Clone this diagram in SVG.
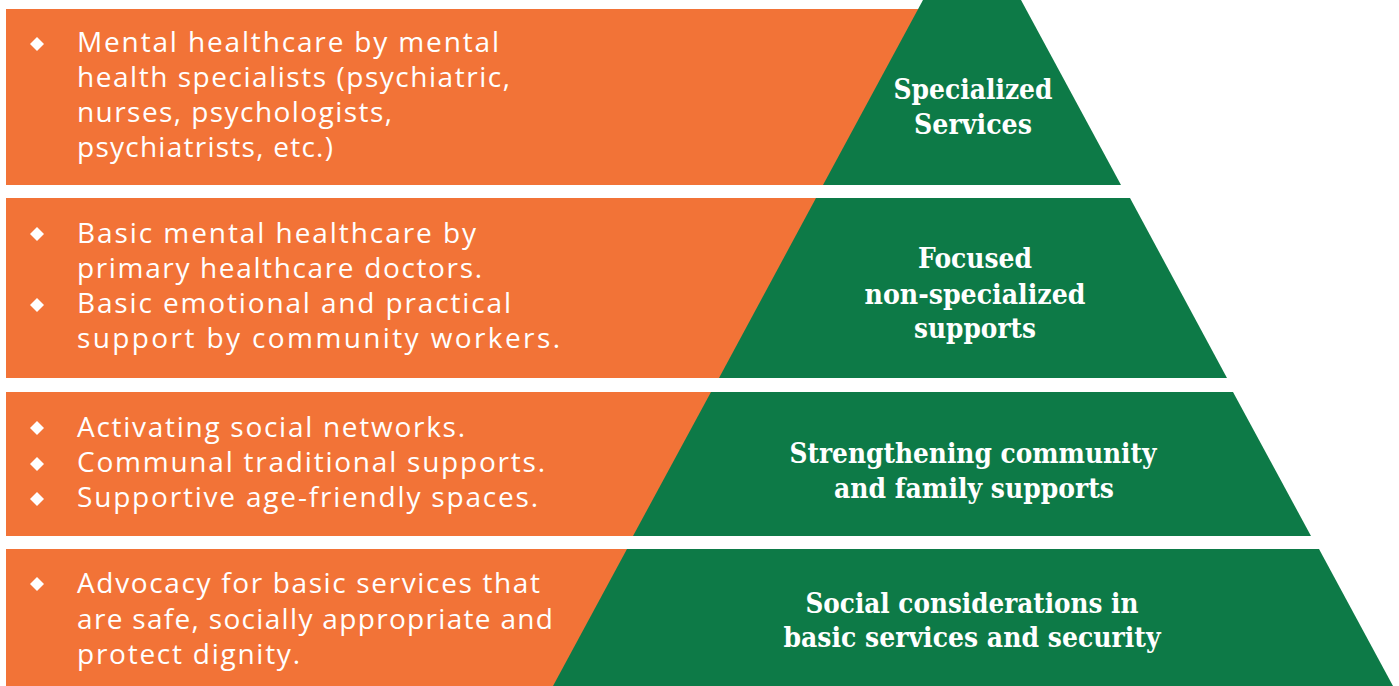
<svg xmlns="http://www.w3.org/2000/svg" width="1399" height="686" viewBox="0 0 1399 686">
<defs>
<style>
.bar{fill:#F27337}
.pyr{fill:#0D7A47}
.item{font-family:"Open Sans","Liberation Sans",sans-serif;font-size:28px;fill:#FFFFFF}
.lbl{font-family:"DejaVu Serif","Liberation Serif",serif;font-weight:bold;font-size:27px;fill:#FFFFFF;text-anchor:middle}
.dot{fill:#FFFFFF}
</style>
<path id="dia" d="M0,-7 L7,0 L0,7 L-7,0 Z"/>
</defs>
<rect width="1399" height="686" fill="#FFFFFF"/>

<g id="tier1">
<rect class="bar" x="6" y="9" width="930" height="176"/>
<polygon class="pyr" points="923,0 1021,0 1121,185 823,185"/>
<use href="#dia" class="dot" x="37" y="44"/>
<text class="item" x="77" y="52" textLength="422">Mental healthcare by mental</text>
<text class="item" x="77" y="87" textLength="433">health specialists (psychiatric,</text>
<text class="item" x="77" y="122" textLength="315">nurses, psychologists,</text>
<text class="item" x="77" y="157" textLength="256">psychiatrists, etc.)</text>
<text class="lbl" x="973" y="99" textLength="159" lengthAdjust="spacingAndGlyphs">Specialized</text>
<text class="lbl" x="973" y="134" textLength="118" lengthAdjust="spacingAndGlyphs">Services</text>
</g>

<g id="tier2">
<rect class="bar" x="6" y="198" width="830" height="180"/>
<polygon class="pyr" points="816,198 1130,198 1227,378 719,378"/>
<use href="#dia" class="dot" x="37" y="234"/>
<use href="#dia" class="dot" x="37" y="305"/>
<text class="item" x="77" y="243" textLength="399">Basic mental healthcare by</text>
<text class="item" x="77" y="278" textLength="405">primary healthcare doctors.</text>
<text class="item" x="77" y="313" textLength="434">Basic emotional and practical</text>
<text class="item" x="77" y="348" textLength="483">support by community workers.</text>
<text class="lbl" x="975" y="268" textLength="114" lengthAdjust="spacingAndGlyphs">Focused</text>
<text class="lbl" x="975" y="304" textLength="221" lengthAdjust="spacingAndGlyphs">non-specialized</text>
<text class="lbl" x="975" y="338" textLength="122" lengthAdjust="spacingAndGlyphs">supports</text>
</g>

<g id="tier3">
<rect class="bar" x="6" y="392" width="720" height="144"/>
<polygon class="pyr" points="711,392 1233,392 1311,536 633,536"/>
<use href="#dia" class="dot" x="37" y="428"/>
<use href="#dia" class="dot" x="37" y="464"/>
<use href="#dia" class="dot" x="37" y="499"/>
<text class="item" x="77" y="437" textLength="388">Activating social networks.</text>
<text class="item" x="77" y="472" textLength="468">Communal traditional supports.</text>
<text class="item" x="77" y="507" textLength="461">Supportive age-friendly spaces.</text>
<text class="lbl" x="973" y="463" textLength="367" lengthAdjust="spacingAndGlyphs">Strengthening community</text>
<text class="lbl" x="974" y="498" textLength="280" lengthAdjust="spacingAndGlyphs">and family supports</text>
</g>

<g id="tier4">
<rect class="bar" x="6" y="549" width="640" height="137"/>
<polygon class="pyr" points="627,549 1319,549 1393,686 553,686"/>
<use href="#dia" class="dot" x="37" y="584"/>
<text class="item" x="77" y="593" textLength="463">Advocacy for basic services that</text>
<text class="item" x="77" y="629" textLength="476">are safe, socially appropriate and</text>
<text class="item" x="77" y="664" textLength="223">protect dignity.</text>
<text class="lbl" x="972" y="613" textLength="333" lengthAdjust="spacingAndGlyphs">Social considerations in</text>
<text class="lbl" x="972" y="647" textLength="377" lengthAdjust="spacingAndGlyphs">basic services and security</text>
</g>

<g id="connectors"/>
</svg>
